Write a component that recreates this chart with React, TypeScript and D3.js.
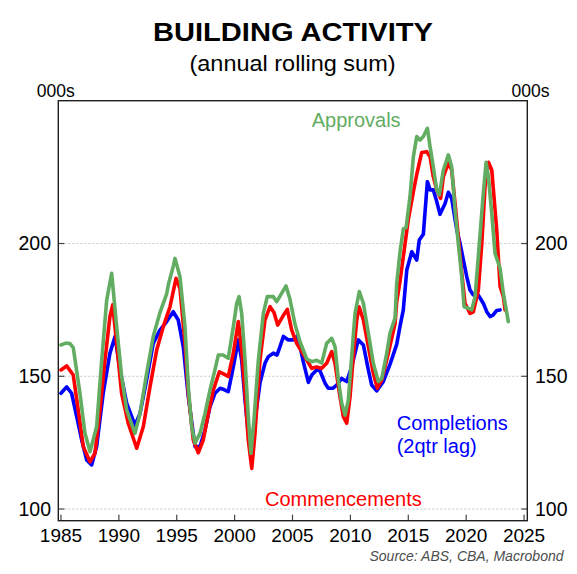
import React from "react";
import * as d3 from "d3";

// ---- data (year, thousands) ----
const approvals: [number, number][] = [
  [1985.0,161.8],[1985.43,162.5],[1985.78,162.3],[1986.06,160.8],[1986.64,143.6],[1987.07,128.6],[1987.51,121.6],[1988.08,131],[1988.52,156],[1988.95,178.7],[1989.38,188.8],[1989.81,168.7],[1990.24,149.9],[1990.68,137.3],[1991.39,128.5],[1991.83,136],[1992.40,151],[1992.97,165],[1993.55,174],[1994.13,181],[1994.27,184.4],[1994.70,191.5],[1994.85,194.4],[1995.28,187.5],[1995.71,168.7],[1996.0,146],[1996.29,131],[1996.58,124.8],[1997.01,128.5],[1997.44,136],[1997.87,144.8],[1998.30,152.4],[1998.59,158],[1999.0,158],[1999.45,156.8],[1999.89,168.7],[2000.18,177.5],[2000.38,180],[2000.61,173.7],[2000.90,156.1],[2001.18,134.8],[2001.41,121],[2001.67,133.5],[2002.05,156.1],[2002.48,173.7],[2002.82,180],[2003.34,180],[2003.64,178.1],[2004.07,181.3],[2004.44,184],[2004.78,179],[2005.22,169.5],[2005.65,163],[2006.23,156.5],[2006.66,155.5],[2007.09,156],[2007.52,155],[2007.95,162.4],[2008.39,164.3],[2008.67,161.2],[2008.96,148.6],[2009.25,139.8],[2009.54,135.4],[2009.82,141],[2010.11,157.4],[2010.40,173.7],[2010.77,181.9],[2011.12,177.5],[2011.55,166.2],[2011.98,154.9],[2012.41,148],[2012.71,149.2],[2013.14,158.7],[2013.42,166.2],[2013.86,172],[2014.0,185],[2014.29,197],[2014.57,205.5],[2014.81,206],[2015.15,217.7],[2015.44,232.7],[2015.73,240.3],[2016.02,239],[2016.30,240.3],[2016.65,243.4],[2016.88,236.5],[2017.16,228.9],[2017.46,220.2],[2017.68,218.3],[2018.03,227.7],[2018.46,233.4],[2018.75,228.9],[2019.04,212.6],[2019.32,200.1],[2019.62,187.5],[2019.82,176.2],[2020.19,175.6],[2020.48,175],[2020.77,180],[2021.14,200.1],[2021.48,218.9],[2021.72,230.6],[2021.92,225.2],[2022.21,211.4],[2022.49,196.3],[2022.93,190.7],[2023.21,181.3],[2023.64,170.6]
];

const commencements: [number, number][] = [
  [1985.0,152.4],[1985.49,153.9],[1986.06,150.5],[1986.49,137.3],[1986.93,123.5],[1987.51,117.8],[1987.94,121],[1988.37,137.3],[1988.80,156],[1989.23,172.5],[1989.47,176.9],[1989.81,162.4],[1990.24,143.6],[1990.81,132.3],[1991.54,122.9],[1992.11,131],[1992.69,146],[1993.27,159.9],[1993.84,168.7],[1994.42,176.2],[1994.94,186.9],[1995.28,183],[1995.71,162.4],[1996.0,143.6],[1996.43,126],[1996.86,121.2],[1997.29,126],[1997.73,136],[1998.16,144.8],[1998.68,151.7],[1999.0,151],[1999.45,149.9],[1999.89,158.7],[2000.32,170.6],[2000.61,159.9],[2000.90,143.6],[2001.18,126],[2001.48,115.3],[2001.76,128.5],[2002.19,156.1],[2002.62,171.2],[2003.06,176.2],[2003.40,174],[2003.72,169.3],[2004.15,172.5],[2004.55,175.2],[2004.93,167.4],[2005.36,162.4],[2005.80,159.3],[2006.23,156.1],[2006.66,153],[2007.09,153.5],[2007.52,153],[2007.95,154.9],[2008.39,159.3],[2008.67,154.9],[2009.10,142.3],[2009.39,134.8],[2009.68,132.3],[2009.97,142.3],[2010.25,157.4],[2010.55,171.2],[2010.75,176.2],[2011.12,171.2],[2011.55,161.2],[2011.98,151.1],[2012.33,145.5],[2012.71,148.6],[2013.28,158.7],[2013.86,169.9],[2014.0,178],[2014.29,186],[2014.57,195],[2015.0,209],[2015.44,219.5],[2015.73,226],[2016.16,234.3],[2016.59,234.6],[2016.88,232.7],[2017.16,225.2],[2017.46,220.2],[2017.80,217],[2018.03,225.2],[2018.46,230.3],[2018.75,227.7],[2019.04,215.1],[2019.32,202.6],[2019.62,188.8],[2019.90,177.5],[2020.33,173.7],[2020.62,174.3],[2021.05,182.5],[2021.35,200.1],[2021.63,221.4],[2021.92,230.6],[2022.21,227.7],[2022.64,205.1],[2022.93,183.8],[2023.21,180],[2023.36,175]
];

const completions: [number, number][] = [
  [1985.0,143.6],[1985.49,146],[1985.92,143.6],[1986.36,134.8],[1986.79,126],[1987.22,118.5],[1987.65,116.6],[1988.08,123.5],[1988.65,143.6],[1989.23,158.7],[1989.67,165],[1990.10,152.4],[1990.68,139.8],[1991.39,131.6],[1991.83,136],[1992.40,148.6],[1992.97,162.4],[1993.55,167.4],[1994.13,170.6],[1994.70,174.3],[1995.13,171.2],[1995.57,161],[1996.0,142.3],[1996.58,123.5],[1997.01,123.5],[1997.44,129.8],[1997.87,138.5],[1998.30,143.6],[1998.74,145.5],[1999.08,145],[1999.45,144.2],[1999.89,153.6],[2000.32,163.7],[2000.61,156.1],[2000.90,141],[2001.18,128.5],[2001.41,123.5],[2001.76,133.5],[2002.19,147.4],[2002.62,154.9],[2002.91,157.4],[2003.34,158.7],[2003.66,158],[2003.92,161.2],[2004.21,165],[2004.64,163.7],[2005.04,163.7],[2005.36,165],[2005.65,161.2],[2005.93,155.5],[2006.37,147.7],[2006.66,150.5],[2007.09,152.4],[2007.38,152],[2007.81,147.4],[2008.09,145.5],[2008.50,145.5],[2008.82,146.7],[2009.25,149.2],[2009.68,148],[2010.11,153.6],[2010.68,163.7],[2011.12,161.8],[2011.55,152.4],[2011.84,146.7],[2012.27,144.5],[2012.84,148],[2013.42,154.5],[2014.0,162],[2014.29,169],[2014.57,175],[2014.87,190],[2015.30,196.9],[2015.73,193.8],[2015.95,201.3],[2016.30,203.5],[2016.65,223.3],[2016.88,220.2],[2017.16,220.2],[2017.46,215.8],[2017.74,211],[2018.18,215.1],[2018.46,219.3],[2018.75,217],[2019.19,205.1],[2019.47,200.1],[2019.76,193.8],[2020.05,187.5],[2020.33,182.5],[2020.62,180.6],[2021.05,180.5],[2021.48,177.5],[2021.78,174.3],[2022.06,172.5],[2022.32,173],[2022.64,174.8],[2022.93,175]
];

const yTicks = [100, 150, 200];
const xTicks = [1985, 1990, 1995, 2000, 2005, 2010, 2015, 2020, 2025];

const FONT = "'Liberation Sans', Arial, Helvetica, sans-serif";

export default function App() {
  const W = 577, H = 574;
  const left = 58.3, right = 527.3, top = 100.7, bottom = 520.7;
  const x = d3.scaleLinear().domain([1984.77, 2025.28]).range([left, right]);
  const y = d3.scaleLinear().domain([95.6, 253.8]).range([bottom, top]);
  const line = d3.line<[number, number]>().x(d => x(d[0])).y(d => y(d[1]));

  const series = [
    { data: completions, color: "#0000ff" },
    { data: commencements, color: "#ff0000" },
    { data: approvals, color: "#62ad62" },
  ];

  return (
    <svg width={W} height={H} style={{ position: "absolute", left: 0, top: 0, background: "#fff" }} fontFamily={FONT}>
      <rect x={0} y={0} width={W} height={H} fill="#fff" />
      <text x={293} y={40.7} textAnchor="middle" fontSize={25} fontWeight="bold" textLength={280} lengthAdjust="spacingAndGlyphs" fill="#000">BUILDING ACTIVITY</text>
      <text x={292.5} y={70.5} textAnchor="middle" fontSize={22} textLength={206} lengthAdjust="spacingAndGlyphs" fill="#000">(annual rolling sum)</text>
      <text x={36.7} y={97} fontSize={17.5} fill="#000">000s</text>
      <text x={549.5} y={97} fontSize={17.5} textAnchor="end" fill="#000">000s</text>

      {yTicks.map(v => (
        <g key={v}>
          <line x1={left + 6} x2={right - 6} y1={y(v)} y2={y(v)} stroke="#c4c4c4" strokeWidth={1} strokeDasharray="2,2" />
          <line x1={left} x2={left + 6} y1={y(v)} y2={y(v)} stroke="#444" strokeWidth={1.2} />
          <line x1={right - 6} x2={right} y1={y(v)} y2={y(v)} stroke="#444" strokeWidth={1.2} />
          <text x={51} y={y(v) + 6.6} textAnchor="end" fontSize={19.5} fill="#000">{v}</text>
          <text x={535} y={y(v) + 6.6} textAnchor="start" fontSize={19.5} fill="#000">{v}</text>
        </g>
      ))}

      {xTicks.map(t => (
        <g key={t}>
          <line x1={x(t)} x2={x(t)} y1={bottom - 6} y2={bottom} stroke="#444" strokeWidth={1.2} />
          <text x={x(t)} y={542} textAnchor="middle" fontSize={19} fill="#000">{t}</text>
        </g>
      ))}

      {series.map((s, i) => (
        <path key={i} d={line(s.data) || ""} fill="none" stroke={s.color} strokeWidth={3.6} strokeLinejoin="round" strokeLinecap="round" />
      ))}

      <rect x={left} y={top} width={right - left} height={bottom - top} fill="none" stroke="#1e1e1e" strokeWidth={1.4} />

      <text x={311.7} y={126.7} fontSize={20} fill="#62ad62">Approvals</text>
      <text x={396.7} y={430} fontSize={20} fill="#0000ff">Completions</text>
      <text x={396.7} y={452.5} fontSize={20} fill="#0000ff">(2qtr lag)</text>
      <text x={421.7} y={506} fontSize={20} textAnchor="end" fill="#ff0000">Commencements</text>

      <text x={563.5} y={560.5} textAnchor="end" fontSize={14} fontStyle="italic" fill="#4d4d4d">Source: ABS, CBA, Macrobond</text>
    </svg>
  );
}
